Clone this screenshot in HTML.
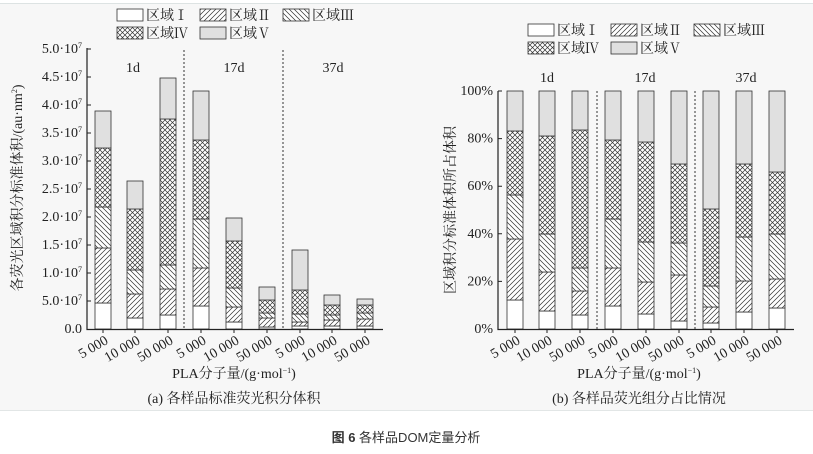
<!DOCTYPE html><html><head><meta charset="utf-8"><style>
body{margin:0;width:813px;height:449px;background:#fff;overflow:hidden}
svg text{font-family:"Liberation Serif","Noto Serif CJK SC",serif;fill:#222;font-size:14px}
.r rect{stroke:#333;stroke-width:.8}
.a{fill:#fff}.b{fill:url(#p2)}.c{fill:url(#p3)}.d{fill:url(#p4)}.e{fill:#e0e0e0}
.ax{stroke:#222;stroke-width:1.2;fill:none}
.dv{stroke:#333;stroke-dasharray:2,2}
.xl text{text-anchor:end}
.yl text{text-anchor:end}
</style></head><body>
<svg width="813" height="449" xmlns="http://www.w3.org/2000/svg">
<defs>
<pattern id="p2" width="5" height="5" patternUnits="userSpaceOnUse"><rect width="5" height="5" fill="#fff"/><path d="M0 5L5 0M-1 1L1 -1M4 6L6 4" stroke="#333" stroke-width="0.7"/></pattern>
<pattern id="p3" width="5" height="5" patternUnits="userSpaceOnUse"><rect width="5" height="5" fill="#fff"/><path d="M0 0L5 5M-1 4L1 6M4 -1L6 1" stroke="#333" stroke-width="0.7"/></pattern>
<pattern id="p4" width="5" height="5" patternUnits="userSpaceOnUse"><rect width="5" height="5" fill="#fff"/><path d="M0 0L5 5M0 5L5 0" stroke="#333" stroke-width="0.7"/></pattern>
</defs>
<rect x="0" y="4" width="813" height="407" fill="#f7f7f7"/>
<line x1="0" y1="3.5" x2="813" y2="3.5" stroke="#dde3e3"/>
<line x1="0" y1="410.5" x2="813" y2="410.5" stroke="#e2e6e6"/>

<g class="r">
<rect class="a" x="117" y="9" width="26" height="12"/><rect class="b" x="200" y="9" width="26" height="12"/><rect class="c" x="283" y="9" width="26" height="12"/>
<rect class="d" x="117" y="27" width="26" height="12"/><rect class="e" x="200" y="27" width="26" height="12"/>
<rect class="a" x="528" y="24" width="26" height="12"/><rect class="b" x="611" y="24" width="26" height="12"/><rect class="c" x="694" y="24" width="26" height="12"/>
<rect class="d" x="528" y="42" width="26" height="12"/><rect class="e" x="611" y="42" width="26" height="12"/>
</g>
<g style="font-size:14px">
<text x="146" y="20">区域Ⅰ</text><text x="229" y="20">区域Ⅱ</text><text x="312" y="20">区域Ⅲ</text>
<text x="146" y="38">区域Ⅳ</text><text x="229" y="38">区域Ⅴ</text>
<text x="557" y="35">区域Ⅰ</text><text x="640" y="35">区域Ⅱ</text><text x="723" y="35">区域Ⅲ</text>
<text x="557" y="53">区域Ⅳ</text><text x="640" y="53">区域Ⅴ</text>
</g>

<line class="dv" x1="184" y1="50" x2="184" y2="329"/><line class="dv" x1="283" y1="50" x2="283" y2="329"/>
<g class="r">
<rect class="a" x="95" y="303" width="16" height="26"/><rect class="b" x="95" y="248" width="16" height="55"/><rect class="c" x="95" y="207" width="16" height="41"/><rect class="d" x="95" y="148" width="16" height="59"/><rect class="e" x="95" y="111" width="16" height="37"/>
<rect class="a" x="127" y="318" width="16" height="11"/><rect class="b" x="127" y="294" width="16" height="24"/><rect class="c" x="127" y="270" width="16" height="24"/><rect class="d" x="127" y="209" width="16" height="61"/><rect class="e" x="127" y="181" width="16" height="28"/>
<rect class="a" x="160" y="315" width="16" height="14"/><rect class="b" x="160" y="289" width="16" height="26"/><rect class="c" x="160" y="265" width="16" height="24"/><rect class="d" x="160" y="119" width="16" height="146"/><rect class="e" x="160" y="78" width="16" height="41"/>
<rect class="a" x="193" y="306" width="16" height="23"/><rect class="b" x="193" y="268" width="16" height="38"/><rect class="c" x="193" y="219" width="16" height="49"/><rect class="d" x="193" y="140" width="16" height="79"/><rect class="e" x="193" y="91" width="16" height="49"/>
<rect class="a" x="226" y="322" width="16" height="7"/><rect class="b" x="226" y="307" width="16" height="15"/><rect class="c" x="226" y="288" width="16" height="19"/><rect class="d" x="226" y="241" width="16" height="47"/><rect class="e" x="226" y="218" width="16" height="23"/>
<rect class="a" x="259" y="327" width="16" height="2"/><rect class="b" x="259" y="318" width="16" height="9"/><rect class="c" x="259" y="313" width="16" height="5"/><rect class="d" x="259" y="300" width="16" height="13"/><rect class="e" x="259" y="287" width="16" height="13"/>
<rect class="a" x="292" y="326" width="16" height="3"/><rect class="b" x="292" y="322" width="16" height="4"/><rect class="c" x="292" y="314" width="16" height="8"/><rect class="d" x="292" y="290" width="16" height="24"/><rect class="e" x="292" y="250" width="16" height="40"/>
<rect class="a" x="324" y="326" width="16" height="3"/><rect class="b" x="324" y="320" width="16" height="6"/><rect class="c" x="324" y="315" width="16" height="5"/><rect class="d" x="324" y="305" width="16" height="10"/><rect class="e" x="324" y="295" width="16" height="10"/>
<rect class="a" x="357" y="326" width="16" height="3"/><rect class="b" x="357" y="319" width="16" height="7"/><rect class="c" x="357" y="313" width="16" height="6"/><rect class="d" x="357" y="305" width="16" height="8"/><rect class="e" x="357" y="299" width="16" height="6"/>
</g>
<path class="ax" d="M87 48V329.5H383"/>
<path stroke="#222" d="M87 301h4M87 273h4M87 245h4M87 217h4M87 189h4M87 161h4M87 133h4M87 105h4M87 77h4M87 49h4M103 329v4M135 329v4M168 329v4M201 329v4M234 329v4M267 329v4M300 329v4M332 329v4M365 329v4"/>
<g class="yl">
<text x="82" y="333">0.0</text>
<text x="82" y="305">5.0·10<tspan dy="-5" font-size="8">7</tspan></text>
<text x="82" y="277">1.0·10<tspan dy="-5" font-size="8">7</tspan></text>
<text x="82" y="249">1.5·10<tspan dy="-5" font-size="8">7</tspan></text>
<text x="82" y="221">2.0·10<tspan dy="-5" font-size="8">7</tspan></text>
<text x="82" y="193">2.5·10<tspan dy="-5" font-size="8">7</tspan></text>
<text x="82" y="165">3.0·10<tspan dy="-5" font-size="8">7</tspan></text>
<text x="82" y="137">3.5·10<tspan dy="-5" font-size="8">7</tspan></text>
<text x="82" y="109">4.0·10<tspan dy="-5" font-size="8">7</tspan></text>
<text x="82" y="81">4.5·10<tspan dy="-5" font-size="8">7</tspan></text>
<text x="82" y="53">5.0·10<tspan dy="-5" font-size="8">7</tspan></text>
</g>
<g class="xl">
<text transform="translate(109,343) rotate(-30)">5 000</text>
<text transform="translate(141,343) rotate(-30)">10 000</text>
<text transform="translate(174,343) rotate(-30)">50 000</text>
<text transform="translate(207,343) rotate(-30)">5 000</text>
<text transform="translate(240,343) rotate(-30)">10 000</text>
<text transform="translate(273,343) rotate(-30)">50 000</text>
<text transform="translate(306,343) rotate(-30)">5 000</text>
<text transform="translate(338,343) rotate(-30)">10 000</text>
<text transform="translate(371,343) rotate(-30)">50 000</text>
</g>
<g style="font-size:14px" text-anchor="middle">
<text x="133" y="72">1d</text><text x="234" y="72">17d</text><text x="333" y="72">37d</text>
<text x="547" y="82">1d</text><text x="645" y="82">17d</text><text x="746" y="82">37d</text>
<text x="234" y="378">PLA分子量/(g·mol<tspan dy="-5" font-size="8">−1</tspan><tspan dy="5">)</tspan></text>
<text x="234" y="403">(a) 各样品标准荧光积分体积</text>
<text x="639" y="378">PLA分子量/(g·mol<tspan dy="-5" font-size="8">−1</tspan><tspan dy="5">)</tspan></text>
<text x="639" y="403">(b) 各样品荧光组分占比情况</text>
</g>
<text transform="translate(22,188) rotate(-90)" text-anchor="middle">各荧光区域积分标准体积/(au·nm<tspan dy="-5" font-size="8">2</tspan><tspan dy="5">)</tspan></text>

<line class="dv" x1="597" y1="91" x2="597" y2="329"/><line class="dv" x1="695" y1="91" x2="695" y2="329"/>
<g class="r">
<rect class="a" x="507" y="300" width="16" height="29"/><rect class="b" x="507" y="239" width="16" height="61"/><rect class="c" x="507" y="195" width="16" height="44"/><rect class="d" x="507" y="131" width="16" height="64"/><rect class="e" x="507" y="91" width="16" height="40"/>
<rect class="a" x="539" y="311" width="16" height="18"/><rect class="b" x="539" y="272" width="16" height="39"/><rect class="c" x="539" y="234" width="16" height="38"/><rect class="d" x="539" y="136" width="16" height="98"/><rect class="e" x="539" y="91" width="16" height="45"/>
<rect class="a" x="572" y="315" width="16" height="14"/><rect class="b" x="572" y="291" width="16" height="24"/><rect class="c" x="572" y="268" width="16" height="23"/><rect class="d" x="572" y="130" width="16" height="138"/><rect class="e" x="572" y="91" width="16" height="39"/>
<rect class="a" x="605" y="306" width="16" height="23"/><rect class="b" x="605" y="268" width="16" height="38"/><rect class="c" x="605" y="219" width="16" height="49"/><rect class="d" x="605" y="140" width="16" height="79"/><rect class="e" x="605" y="91" width="16" height="49"/>
<rect class="a" x="638" y="314" width="16" height="15"/><rect class="b" x="638" y="282" width="16" height="32"/><rect class="c" x="638" y="242" width="16" height="40"/><rect class="d" x="638" y="142" width="16" height="100"/><rect class="e" x="638" y="91" width="16" height="51"/>
<rect class="a" x="671" y="321" width="16" height="8"/><rect class="b" x="671" y="275" width="16" height="46"/><rect class="c" x="671" y="243" width="16" height="32"/><rect class="d" x="671" y="164" width="16" height="79"/><rect class="e" x="671" y="91" width="16" height="73"/>
<rect class="a" x="703" y="323" width="16" height="6"/><rect class="b" x="703" y="307" width="16" height="16"/><rect class="c" x="703" y="286" width="16" height="21"/><rect class="d" x="703" y="209" width="16" height="77"/><rect class="e" x="703" y="91" width="16" height="118"/>
<rect class="a" x="736" y="312" width="16" height="17"/><rect class="b" x="736" y="281" width="16" height="31"/><rect class="c" x="736" y="237" width="16" height="44"/><rect class="d" x="736" y="164" width="16" height="73"/><rect class="e" x="736" y="91" width="16" height="73"/>
<rect class="a" x="769" y="308" width="16" height="21"/><rect class="b" x="769" y="279" width="16" height="29"/><rect class="c" x="769" y="234" width="16" height="45"/><rect class="d" x="769" y="172" width="16" height="62"/><rect class="e" x="769" y="91" width="16" height="81"/>
</g>
<path class="ax" d="M498 91V329.5H794"/>
<path stroke="#222" d="M498 281.4h4M498 233.8h4M498 186.2h4M498 138.6h4M498 91h4M515 329v4M547 329v4M580 329v4M613 329v4M646 329v4M679 329v4M711 329v4M744 329v4M777 329v4"/>
<g class="yl">
<text x="493" y="333">0%</text><text x="493" y="285.4">20%</text><text x="493" y="237.8">40%</text><text x="493" y="190.2">60%</text><text x="493" y="142.6">80%</text><text x="493" y="95">100%</text>
</g>
<g class="xl">
<text transform="translate(521,343) rotate(-30)">5 000</text>
<text transform="translate(553,343) rotate(-30)">10 000</text>
<text transform="translate(586,343) rotate(-30)">50 000</text>
<text transform="translate(619,343) rotate(-30)">5 000</text>
<text transform="translate(652,343) rotate(-30)">10 000</text>
<text transform="translate(685,343) rotate(-30)">50 000</text>
<text transform="translate(717,343) rotate(-30)">5 000</text>
<text transform="translate(750,343) rotate(-30)">10 000</text>
<text transform="translate(783,343) rotate(-30)">50 000</text>
</g>
<text transform="translate(455,210) rotate(-90)" text-anchor="middle">区域积分标准体积所占体积</text>

<text x="406" y="442" text-anchor="middle" style="font-family:'Liberation Sans','Noto Sans CJK SC',sans-serif;font-size:13px;fill:#333;font-weight:normal"><tspan font-weight="bold">图 6</tspan> 各样品DOM定量分析</text>
</svg>
</body></html>
